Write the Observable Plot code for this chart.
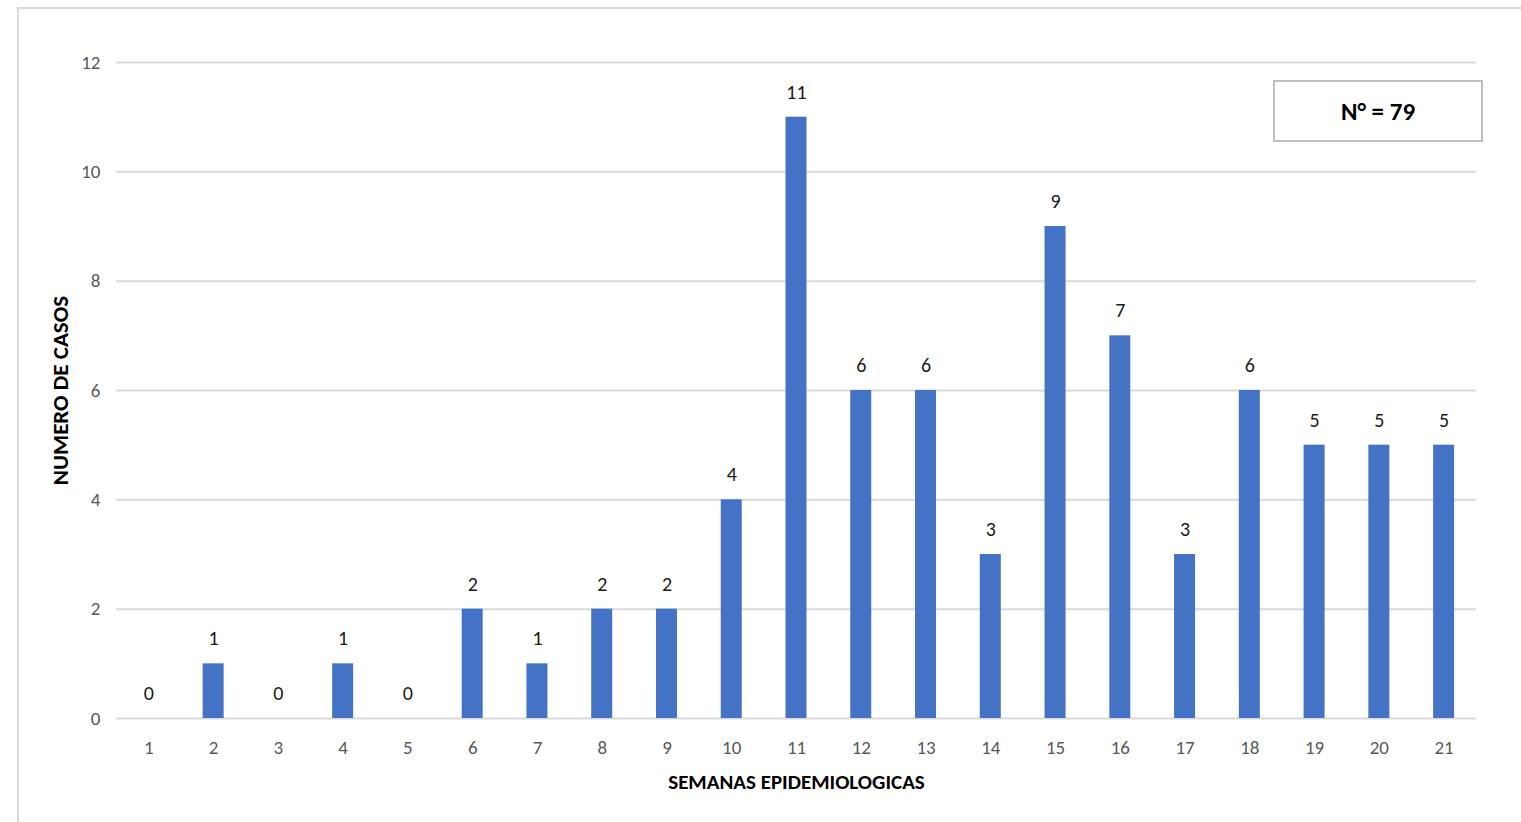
<!DOCTYPE html>
<html>
<head>
<meta charset="utf-8">
<script src="https://cdn.jsdelivr.net/npm/d3@7"></script>
<script src="https://cdn.jsdelivr.net/npm/@observablehq/plot@0.6"></script>
<style>
  html, body { margin: 0; padding: 0; background: #fff; overflow: hidden; }
  #wrap { position: relative; width: 1521px; height: 822px; font-family: Carlito, Calibri, Lato, sans-serif; }
  #frame { position: absolute; left: 17px; top: 7px; width: 1600px; height: 900px; border-left: 2px solid #d9d9d9; border-top: 2px solid #d9d9d9; }
  #nbox { position: absolute; left: 1273px; top: 80px; width: 206px; height: 58px; border: 2px solid #bfbfbf; background: #fff;
          display: flex; align-items: center; justify-content: center; font-weight: bold; font-size: 25px; color: #000; }
  #chart { position: absolute; left: 0; top: 0; }
</style>
</head>
<body>
<div id="wrap">
  <div id="frame"></div>
  <div id="chart"></div>
  <div id="nbox"></div>
</div>
<script>
const semanas = [1,2,3,4,5,6,7,8,9,10,11,12,13,14,15,16,17,18,19,20,21];
const casos = [0,1,0,1,0,2,1,2,2,4,11,6,6,3,9,7,3,6,5,5,5];
const yTicks = [0,2,4,6,8,10,12];
const xTitle = "SEMANAS EPIDEMIOLOGICAS";
const yTitle = "NUMERO DE CASOS";

const data = semanas.map((s, i) => ({semana: String(s), casos: casos[i]}));
const total = d3.sum(casos);
document.getElementById("nbox").textContent = `N° = ${total}`;

const font = "Carlito, Calibri, Lato, sans-serif";

const chart = Plot.plot({
  width: 1521,
  height: 822,
  marginLeft: 116,
  marginRight: 45,
  marginTop: 62,
  marginBottom: 104,
  style: {fontFamily: font, background: "transparent"},
  x: {domain: semanas.map(String), paddingInner: 0.676, paddingOuter: 0.338, round: false, label: null},
  y: {domain: [0, 12], label: null},
  marks: [
    Plot.gridY(yTicks, {stroke: "#d9d9d9", strokeOpacity: 1, strokeWidth: 2}),
    Plot.barY(data, {x: "semana", y: "casos", fill: "#4472C4"}),
    Plot.text(data, {x: "semana", y: "casos", text: d => String(d.casos), dy: -25, fontSize: 20, fill: "#1a1a1a"}),
    Plot.axisY(yTicks, {tickSize: 0, tickPadding: 16, fontSize: 19, fill: "#595959", tickFormat: "d", label: null}),
    Plot.axisX({tickSize: 0, tickPadding: 22, fontSize: 19, fill: "#595959", label: null}),
    Plot.text([xTitle], {frameAnchor: "bottom", dy: 70, fontSize: 21, fontWeight: "bold", fill: "#000"}),
    Plot.text([yTitle], {frameAnchor: "left", textAnchor: "middle", dx: -56, rotate: -90, fontSize: 23, fontWeight: "bold", fill: "#000"})
  ]
});
document.getElementById("chart").appendChild(chart);
</script>
</body>
</html>
